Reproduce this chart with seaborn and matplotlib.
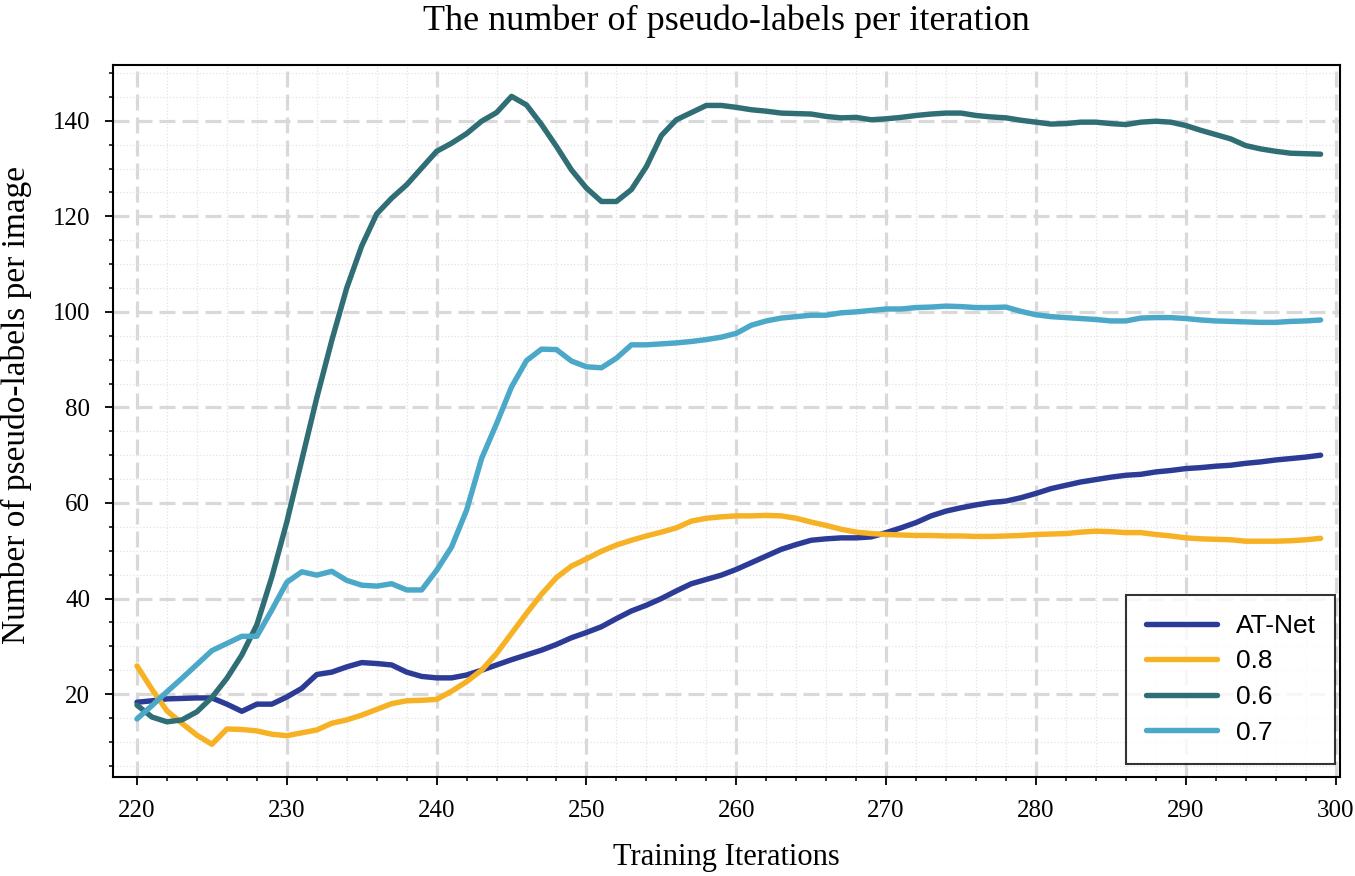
import numpy as np
import pandas as pd
import matplotlib
matplotlib.use("Agg")
import matplotlib.pyplot as plt
import seaborn as sns
from matplotlib.ticker import MultipleLocator

iterations = list(range(220, 300))

at_net = [18.3, 18.6, 19.0, 19.1, 19.2, 19.2, 17.9, 16.4, 17.9, 17.9,
          19.4, 21.2, 24.1, 24.6, 25.7, 26.6, 26.4, 26.1, 24.6, 23.7,
          23.4, 23.4, 24.0, 25.0, 26.1, 27.2, 28.2, 29.2, 30.4, 31.8,
          32.9, 34.1, 35.8, 37.4, 38.6, 40.0, 41.6, 43.1, 44.0, 44.9,
          46.1, 47.5, 48.9, 50.3, 51.3, 52.2, 52.5, 52.7, 52.7, 52.9,
          53.8, 54.8, 55.9, 57.3, 58.3, 59.0, 59.6, 60.1, 60.4, 61.1,
          62.0, 63.0, 63.7, 64.4, 64.9, 65.4, 65.8, 66.0, 66.5, 66.8,
          67.2, 67.4, 67.7, 67.9, 68.3, 68.6, 69.0, 69.3, 69.6, 70.0]

thr_08 = [25.9, 21.0, 16.5, 13.9, 11.4, 9.5, 12.7, 12.6, 12.3, 11.6,
          11.3, 11.9, 12.5, 13.9, 14.6, 15.6, 16.8, 18.0, 18.6, 18.7,
          18.9, 20.6, 22.6, 25.0, 28.5, 32.7, 36.9, 40.9, 44.4, 46.8,
          48.3, 49.9, 51.2, 52.2, 53.1, 53.9, 54.8, 56.2, 56.8, 57.1,
          57.3, 57.3, 57.4, 57.3, 56.8, 56.0, 55.3, 54.5, 53.9, 53.6,
          53.4, 53.3, 53.2, 53.2, 53.1, 53.1, 53.0, 53.0, 53.1, 53.2,
          53.4, 53.5, 53.6, 53.9, 54.1, 54.0, 53.8, 53.8, 53.4, 53.1,
          52.7, 52.5, 52.4, 52.3, 52.0, 52.0, 52.0, 52.1, 52.3, 52.6]

thr_06 = [17.7, 15.2, 14.2, 14.6, 16.3, 19.3, 23.3, 28.2, 34.5, 44.5,
          56.0, 69.0, 82.0, 94.0, 105.0, 113.8, 120.5, 123.8, 126.6, 130.1,
          133.6, 135.3, 137.3, 139.9, 141.7, 145.1, 143.3, 139.2, 134.6, 129.7,
          125.9, 123.1, 123.1, 125.6, 130.4, 136.9, 140.2, 141.7, 143.2, 143.2,
          142.8, 142.3, 142.0, 141.6, 141.5, 141.4, 140.9, 140.6, 140.7, 140.2,
          140.4, 140.7, 141.1, 141.4, 141.6, 141.6, 141.1, 140.8, 140.6, 140.1,
          139.7, 139.3, 139.4, 139.7, 139.7, 139.4, 139.2, 139.7, 139.9, 139.7,
          139.0, 138.0, 137.1, 136.2, 134.8, 134.1, 133.6, 133.2, 133.1, 133.0]

thr_07 = [14.8, 17.6, 20.5, 23.3, 26.2, 29.1, 30.6, 32.1, 32.1, 37.6,
          43.4, 45.6, 44.9, 45.7, 43.8, 42.8, 42.6, 43.1, 41.8, 41.8,
          45.9, 50.8, 58.5, 69.3, 76.6, 84.3, 89.8, 92.2, 92.1, 89.7,
          88.5, 88.3, 90.3, 93.1, 93.1, 93.3, 93.5, 93.8, 94.2, 94.7,
          95.5, 97.2, 98.1, 98.7, 99.0, 99.3, 99.3, 99.8, 100.0, 100.3,
          100.6, 100.6, 100.9, 101.0, 101.2, 101.1, 100.9, 100.9, 101.0, 100.1,
          99.4, 99.0, 98.8, 98.6, 98.4, 98.1, 98.1, 98.7, 98.8, 98.8,
          98.6, 98.3, 98.1, 98.0, 97.9, 97.8, 97.8, 98.0, 98.1, 98.3]

series_names = ["AT-Net", "0.8", "0.6", "0.7"]
series_colors = ["#2C3B96", "#F6B224", "#306E76", "#4BA8C8"]

df = pd.concat([
    pd.DataFrame({"iteration": iterations, "value": vals, "series": name})
    for name, vals in zip(series_names, [at_net, thr_08, thr_06, thr_07])
], ignore_index=True)

sns.set_theme(style="white")
plt.rcParams["font.family"] = ["Liberation Serif", "DejaVu Serif"]
plt.rcParams["text.color"] = "black"
plt.rcParams["axes.labelcolor"] = "black"
plt.rcParams["xtick.color"] = "black"
plt.rcParams["ytick.color"] = "black"

fig = plt.figure(figsize=(13.55, 8.76), dpi=100)
ax = fig.add_axes([0.0834, 0.113, 0.9056, 0.813])

sns.lineplot(data=df, x="iteration", y="value", hue="series",
             hue_order=series_names,
             palette=dict(zip(series_names, series_colors)),
             linewidth=3.9, ax=ax, legend=True)

ax.set_xlim(218.4, 300.3)
ax.set_ylim(2.65, 151.7)
ax.xaxis.set_major_locator(MultipleLocator(10))
ax.xaxis.set_minor_locator(MultipleLocator(2))
ax.yaxis.set_major_locator(MultipleLocator(20))
ax.yaxis.set_minor_locator(MultipleLocator(5))

ax.grid(True, which="major", linestyle=(0, (5, 2.2)), color="#d9d9d9", linewidth=2.3)
ax.grid(True, which="minor", linestyle=":", color="#e3e3e3", linewidth=0.9)
ax.set_axisbelow(True)

ax.tick_params(axis="both", which="major", direction="out", length=5.5, width=1.3,
               labelsize=18, pad=11, bottom=True, left=True)
ax.tick_params(axis="both", which="minor", direction="out", length=3, width=1.1,
               bottom=True, left=True)
for s in ax.spines.values():
    s.set_color("black")
    s.set_linewidth(1.5)

ax.set_title("The number of pseudo-labels per iteration", fontsize=26, pad=25)
ax.set_xlabel("Training Iterations", fontsize=22)
ax.set_ylabel("Number of pseudo-labels per image", fontsize=24)
ax.xaxis.set_label_coords(0.5, -0.093)
ax.yaxis.set_label_coords(-0.066, 0.522)

leg = ax.legend(loc="lower right", bbox_to_anchor=(0.9959, 0.0183),
                borderaxespad=0,
                prop={"family": "Liberation Sans", "size": 19},
                frameon=True, fancybox=False, edgecolor="black",
                handlelength=2.7, handletextpad=0.72, labelspacing=0.44,
                borderpad=0.73)
leg.get_frame().set_linewidth(1.5)
for h in leg.get_lines():
    h.set_linewidth(3.9)

fig.savefig("out.png", dpi=100)
